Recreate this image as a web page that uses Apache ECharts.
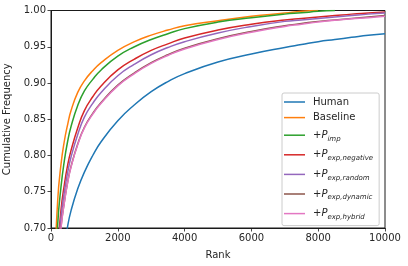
<!DOCTYPE html>
<html>
<head>
<meta charset="utf-8">
<script src="https://cdn.jsdelivr.net/npm/echarts@6/dist/echarts.min.js"></script>
<style>
html,body{margin:0;padding:0;background:#fff;}
#c{width:408px;height:266px;}
</style>
</head>
<body>
<div id="c"></div>
<script>
// Data
const ranks      = [100, 200, 300, 400, 500, 600, 800, 1000, 1250, 1500, 2000, 2500, 3000, 3500, 4000, 5000, 6000, 7000, 7500, 8000, 8500, 9000, 9500, 10000];
const human      = [null, null, 0.630, 0.672, 0.703, 0.724, 0.754, 0.777, 0.800, 0.819, 0.848, 0.870, 0.888, 0.902, 0.913, 0.929, 0.940, 0.949, 0.953, 0.957, 0.960, 0.963, 0.966, 0.968];
const baseline   = [0.630, 0.738, 0.788, 0.820, 0.843, 0.862, 0.887, 0.903, 0.917, 0.928, 0.945, 0.957, 0.966, 0.973, 0.979, 0.986, 0.992, 0.9965, 0.999, 1.000, null, null, null, null];
const pImp       = [0.600, 0.705, 0.757, 0.793, 0.820, 0.840, 0.869, 0.889, 0.905, 0.918, 0.937, 0.950, 0.960, 0.968, 0.975, 0.984, 0.990, 0.995, 0.9968, 0.9988, 1.000, null, null, null];
const pNegative  = [0.550, 0.665, 0.725, 0.760, 0.787, 0.807, 0.838, 0.862, 0.881, 0.896, 0.918, 0.933, 0.945, 0.954, 0.962, 0.973, 0.981, 0.987, 0.989, 0.991, 0.993, 0.995, 0.9965, 0.998];
const pRandom    = [0.540, 0.655, 0.715, 0.750, 0.777, 0.798, 0.829, 0.853, 0.872, 0.887, 0.910, 0.926, 0.939, 0.949, 0.957, 0.969, 0.978, 0.985, 0.987, 0.989, 0.991, 0.993, 0.995, 0.9965];
const pDynamic   = [0.521, 0.636, 0.701, 0.736, 0.764, 0.785, 0.816, 0.839, 0.858, 0.873, 0.897, 0.914, 0.928, 0.939, 0.948, 0.961, 0.971, 0.979, 0.982, 0.985, 0.987, 0.989, 0.991, 0.993];
const pHybrid    = [0.520, 0.635, 0.700, 0.735, 0.763, 0.784, 0.815, 0.838, 0.857, 0.872, 0.896, 0.913, 0.927, 0.938, 0.947, 0.960, 0.970, 0.978, 0.981, 0.984, 0.9865, 0.9885, 0.990, 0.992];

const seriesNames = ['Human', 'Baseline', '+P_imp', '+P_exp,negative', '+P_exp,random', '+P_exp,dynamic', '+P_exp,hybrid'];
const seriesData  = [human, baseline, pImp, pNegative, pRandom, pDynamic, pHybrid];
const colors      = ['#1f77b4', '#ff7f0e', '#2ca02c', '#d62728', '#9467bd', '#8c564b', '#e377c2'];
const xTicks = {min: 0, max: 10000, interval: 2000};
const yTicks = {min: 0.70, max: 1.00, interval: 0.05};

const FONT = 'DejaVu Sans';
const chart = echarts.init(document.getElementById('c'), null, {renderer: 'canvas'});

const series = seriesNames.map((name, i) => ({
  name: name,
  type: 'line',
  data: ranks.map((r, j) => [r, seriesData[i][j]]),
  showSymbol: false,
  smooth: 0.5,
  clip: true,
  lineStyle: {width: 1.5, color: colors[i]},
  itemStyle: {color: colors[i]},
  emphasis: {disabled: true},
  animation: false
}));

chart.setOption({
  animation: false,
  backgroundColor: '#ffffff',
  grid: {left: 51, right: 23, top: 10.5, bottom: 38, outerBoundsMode: 'none', containLabel: false,
         show: true, borderColor: '#1a1a1a', borderWidth: 1, backgroundColor: 'transparent'},
  xAxis: {
    type: 'value', min: xTicks.min, max: xTicks.max, interval: xTicks.interval,
    name: 'Rank', nameLocation: 'middle', nameGap: 22,
    nameTextStyle: {fontFamily: FONT, fontSize: 10, color: '#262626'},
    axisLine: {show: true, onZero: false, lineStyle: {color: '#1a1a1a', width: 1}},
    axisTick: {show: true, length: 3.5, lineStyle: {color: '#1a1a1a', width: 0.8}},
    axisLabel: {fontFamily: FONT, fontSize: 10, color: '#262626', margin: 5, formatter: v => String(v)},
    splitLine: {show: false}
  },
  yAxis: {
    type: 'value', min: yTicks.min, max: yTicks.max, interval: yTicks.interval,
    name: 'Cumulative Frequency', nameLocation: 'middle', nameGap: 35,
    nameTextStyle: {fontFamily: FONT, fontSize: 10, color: '#262626'},
    axisLine: {show: true, lineStyle: {color: '#1a1a1a', width: 1}},
    axisTick: {show: true, length: 3.5, lineStyle: {color: '#1a1a1a', width: 0.8}},
    axisLabel: {fontFamily: FONT, fontSize: 10, color: '#262626', margin: 5, formatter: v => v.toFixed(2)},
    splitLine: {show: false}
  },
  legend: {
    orient: 'vertical',
    left: 282, top: 93,
    padding: [3, 6, 4, 2],
    itemGap: 3.6,
    itemWidth: 21, itemHeight: 1.5,
    icon: 'rect',
    backgroundColor: 'rgba(255,255,255,0.8)',
    borderColor: '#cccccc', borderWidth: 1, borderRadius: 2,
    data: seriesNames,
    textStyle: {
      fontFamily: FONT, fontSize: 10, color: '#262626', lineHeight: 12, padding: [0, 0, 0, 3],
      rich: {
        p: {fontFamily: FONT, fontSize: 10, fontStyle: 'italic', color: '#262626', padding: [3, 0, 3, 0], lineHeight: 12},
        s: {fontFamily: FONT, fontSize: 7, fontStyle: 'italic', color: '#262626', padding: [7, 0, 0, 0], lineHeight: 9}
      }
    },
    formatter: function (name) {
      const k = name.indexOf('_');
      if (k < 0) return name;
      return '+{p|P}{s|' + name.slice(k + 1) + '}';
    }
  },
  series: series
});
</script>
</body>
</html>
